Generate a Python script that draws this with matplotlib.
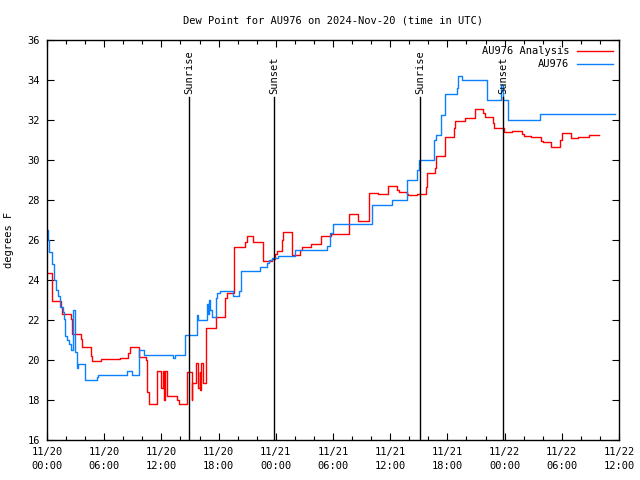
import matplotlib
matplotlib.use("Agg")
import matplotlib.pyplot as plt
from matplotlib.ticker import MultipleLocator

# Hours since 2024-11-20 00:00 UTC, dew point in deg F (step data)
analysis_hours = [0.0, 0.56, 1.44, 1.6, 2.49, 2.65, 3.53, 3.67, 4.58, 4.75, 5.63, 7.66,
                  8.53, 8.67, 9.62, 10.38, 10.52, 10.65, 11.59, 12.01, 12.12, 12.24,
                  12.33, 12.54, 13.67, 13.81, 14.65, 15.18, 15.24, 15.63, 15.87, 16.0,
                  16.08, 16.12, 16.4, 16.65, 17.7, 18.67, 18.85, 19.65, 20.77, 20.95,
                  21.64, 22.63, 23.57, 23.92, 24.09, 24.62, 24.79, 25.67, 26.54, 26.78,
                  27.66, 28.74, 29.76, 31.71, 32.65, 33.78, 34.75, 35.74, 36.68, 36.92,
                  37.73, 37.9, 38.84, 39.72, 39.89, 40.7, 40.8, 41.75, 42.69, 42.8,
                  43.85, 44.9, 45.77, 45.95, 46.75, 46.92, 47.97, 48.74, 49.79, 50.06,
                  50.73, 51.78, 51.99, 52.83, 53.81, 53.98, 54.93, 55.73, 56.88, 57.9]
analysis_dewpt = [24.33, 22.95, 22.63, 22.3, 22.05, 21.28, 21.03, 20.63, 20.2, 19.93, 20.03, 20.1,
                  20.37, 20.63, 20.13, 20.0, 18.4, 17.8, 19.47, 18.6, 19.47, 18.0,
                  19.47, 18.2, 18.0, 17.8, 19.42, 18.0, 18.83, 19.87, 18.6, 19.4,
                  18.5, 19.87, 18.83, 21.58, 22.13, 23.08, 23.37, 25.67, 25.92, 26.2,
                  25.88, 24.95, 25.03, 25.3, 25.45, 26.0, 26.38, 25.25, 25.5, 25.67,
                  25.8, 26.2, 26.3, 27.3, 26.95, 28.33, 28.3, 28.7, 28.5, 28.42,
                  28.3, 28.25, 28.3, 28.67, 29.33, 29.6, 30.22, 31.17, 31.6, 31.95,
                  32.08, 32.53, 32.33, 32.17, 31.87, 31.62, 31.42, 31.45, 31.3, 31.2,
                  31.13, 30.95, 30.88, 30.63, 31.0, 31.37, 31.08, 31.17, 31.25, 31.25]

obs_hours = [0.0, 0.1, 0.24, 0.49, 0.73, 0.91, 1.15, 1.36, 1.65, 1.78, 1.92, 2.07, 2.34,
             2.49, 2.7, 2.91, 3.12, 3.28, 3.99, 5.21, 5.38, 8.42, 8.88, 9.68, 10.17,
             13.19, 13.43, 14.48, 15.7, 15.89, 16.75, 16.88, 16.98, 17.1, 17.28, 17.7,
             17.86, 18.15, 19.54, 20.14, 20.35, 22.34, 23.05, 23.29, 23.57, 24.26,
             26.01, 29.34, 29.69, 29.97, 34.06, 36.16, 37.73, 38.84, 39.05, 40.59,
             40.8, 41.3, 41.75, 42.98, 43.14, 43.5, 46.19, 47.59, 47.8, 48.32, 51.71, 59.58]
obs_dewpt = [26.5, 26.0, 25.4, 24.8, 24.0, 23.5, 23.2, 22.65, 22.4, 22.05, 21.2, 21.0, 20.8,
             20.5, 22.5, 20.4, 19.6, 19.8, 19.0, 19.17, 19.25, 19.47, 19.25, 20.5, 20.25,
             20.1, 20.25, 21.25, 22.25, 22.0, 22.8, 22.3, 23.0, 22.5, 22.17, 23.08,
             23.37, 23.45, 23.2, 23.45, 24.45, 24.63, 24.87, 25.0, 25.08, 25.2,
             25.5, 25.7, 26.35, 26.78, 27.75, 28.0, 29.0, 29.5, 30.0, 31.0,
             31.25, 32.25, 33.28, 33.6, 34.22, 34.0, 33.0, 33.75, 33.0, 32.0, 32.28, 32.28]

sun_hours = [14.9, 23.84, 39.16, 47.86]
sun_labels = ["Sunrise", "Sunset", "Sunrise", "Sunset"]

tick_hours = [0, 6, 12, 18, 24, 30, 36, 42, 48, 54, 60]
tick_labels = ["11/20\n00:00", "11/20\n06:00", "11/20\n12:00", "11/20\n18:00",
               "11/21\n00:00", "11/21\n06:00", "11/21\n12:00", "11/21\n18:00",
               "11/22\n00:00", "11/22\n06:00", "11/22\n12:00"]

plt.rcParams['font.family'] = ['DejaVu Sans Mono']
plt.rcParams['font.size'] = 7.5

fig = plt.figure(figsize=(6.4, 4.8), dpi=100)
ax = fig.add_axes([47 / 640, 40 / 480, 572 / 640, 400 / 480])

ax.plot(analysis_hours, analysis_dewpt, drawstyle='steps-post', color='#ff0000',
        lw=1.0, label='AU976 Analysis')
ax.plot(obs_hours, obs_dewpt, drawstyle='steps-post', color='#0a80ff',
        lw=1.0, label='AU976')

for h, lab in zip(sun_hours, sun_labels):
    ax.plot([h, h], [16, 33.15], color='black', lw=1.0)
    ax.text(h, 33.3, lab, rotation=90, ha='center', va='bottom', fontsize=7.5)

ax.set_xlim(0, 60)
ax.set_ylim(16, 36)
ax.set_xticks(tick_hours)
ax.set_xticklabels(tick_labels, linespacing=1.45)
ax.xaxis.set_minor_locator(MultipleLocator(2))
ax.set_yticks(range(16, 37, 2))
ax.tick_params(direction='in', which='major', length=5, width=0.8, top=True, right=True,
               labelsize=7.5, pad=5)
ax.tick_params(direction='in', which='minor', length=3, width=0.8, top=True, right=True)
for sp in ax.spines.values():
    sp.set_linewidth(1.0)

ax.set_ylabel('degrees F', fontsize=7.5, labelpad=10)
ax.set_title('Dew Point for AU976 on 2024-Nov-20 (time in UTC)', fontsize=7.5, pad=12)

leg = ax.legend(loc='upper right', frameon=False, fontsize=7.5, markerfirst=False,
                handlelength=3.4, borderaxespad=0.2, labelspacing=0.3, handletextpad=0.8)
for t in leg.get_texts():
    t.set_ha('right')

fig.savefig('out.png', dpi=100)
